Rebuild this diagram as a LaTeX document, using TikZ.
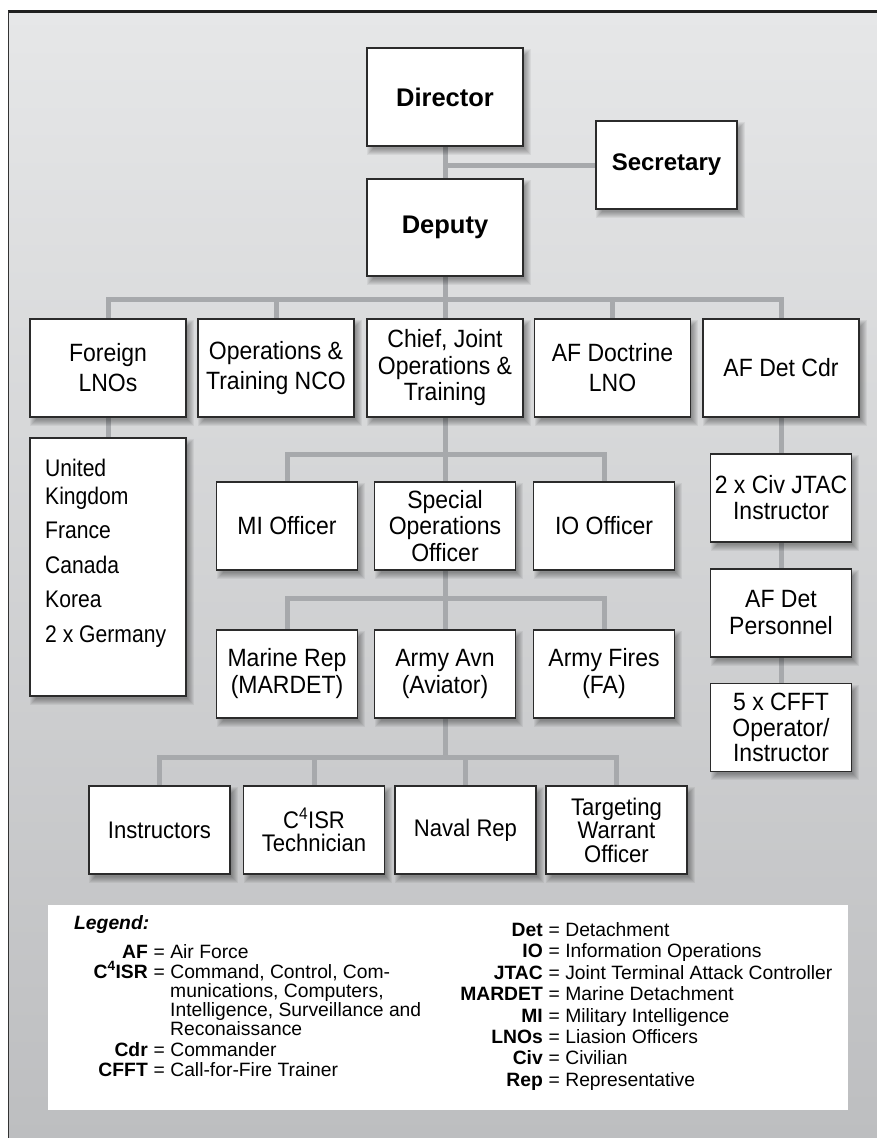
\documentclass[tikz,border=0pt]{standalone}
\usepackage{fontspec}
\setmainfont{Liberation Sans}
\newfontfamily\condfont[FakeStretch=0.92]{Liberation Sans}
\newfontfamily\listfont[FakeStretch=0.88]{Liberation Sans}
\usetikzlibrary{calc}
\pgfdeclarelayer{bg}
\pgfdeclarelayer{conn}
\pgfdeclarelayer{shadow}
\pgfsetlayers{bg,conn,shadow,main}
\definecolor{connc}{HTML}{A7A9AC}
\definecolor{boxline}{HTML}{2B2B2B}
\definecolor{bgtop}{HTML}{E6E7E8}
\definecolor{bgbot}{HTML}{BDBEC0}
\begin{document}
\begin{tikzpicture}[x=1pt,y=-1pt,
  box/.style={draw=boxline, line width=1.3pt, fill=white, inner sep=2pt, align=center},
  bigbox/.style={box, minimum width=156pt, minimum height=98pt},
  smallbox/.style={box, minimum width=141pt, minimum height=88pt},
  topfont/.style={font=\fontsize{25.5}{30}\selectfont\bfseries},
  cf/.style={font=\condfont\fontsize{25}{#1}\selectfont},
  cf/.default=27,
  rf/.style={font=\condfont\fontsize{24}{#1}\selectfont},
  rf/.default=23.5,
  conn/.style={draw=connc, line width=5pt},
  leg/.style={font=\fontsize{19.3}{22}\selectfont, inner sep=0pt}
]
\useasboundingbox (0,0) rectangle (877,1138);
\begin{pgfonlayer}{bg}
  \fill[white] (0,0) rectangle (877,1138);
  \shade[top color=bgtop, bottom color=bgbot] (8,11) rectangle (877,1138);
  \draw[line width=3pt, black!88] (8,11) -- (877,11);
  \draw[line width=1.5pt, black!80] (8.5,11) -- (8.5,1138);
  \fill[white] (48,905) rectangle (848,1110);
\end{pgfonlayer}

% top
\node[bigbox, topfont] (dir) at (445,97) {Director};
\node[smallbox, font=\fontsize{24}{30}\selectfont\bfseries] (sec) at (666.5,165) {Secretary};
\node[bigbox, topfont, minimum height=97pt] (dep) at (445,227.5) {Deputy};

% row 1
\node[bigbox, cf=30] (fln) at (108,368) {Foreign\\LNOs};
\node[bigbox, cf=30] (ops) at (276,368) {Operations \&\\Training NCO};
\node[bigbox, cf=26.5] (chief) at (445,368) {Chief, Joint\\Operations \&\\Training};
\node[bigbox, cf=30] (afdoc) at (612.5,368) {AF Doctrine\\LNO};
\node[bigbox, cf=30] (afdet) at (781,368) {AF Det Cdr};

% list
\node[box, minimum width=156pt, minimum height=258pt] (list) at (108,567) {};
\node[font=\listfont\fontsize{24}{28}\selectfont, anchor=west, inner sep=0pt, align=left] (listtxt) at (45,553)
  {United\\Kingdom\\[6.5pt]France\\[6.5pt]Canada\\[6.5pt]Korea\\[6.5pt]2 x Germany};

% row 2
\node[smallbox, cf] (mi) at (287,526) {MI Officer};
\node[smallbox, cf=26.5] (spec) at (445,526) {Special\\Operations\\Officer};
\node[smallbox, cf] (io) at (604,526) {IO Officer};

% row 3
\node[smallbox, cf] (mar) at (287,674) {Marine Rep\\(MARDET)};
\node[smallbox, cf] (avn) at (445,674) {Army Avn\\(Aviator)};
\node[smallbox, cf] (fires) at (604,674) {Army Fires\\(FA)};

% row 4
\node[smallbox, rf] (instr) at (159.5,830) {Instructors};
\node[smallbox, rf] (c4) at (314,830) {C\textsuperscript{4}ISR\\Technician};
\node[smallbox, rf] (naval) at (465.5,830) {Naval Rep};
\node[smallbox, rf] (targ) at (616.5,830) {Targeting\\Warrant\\Officer};

% right column
\node[smallbox, cf=26] (jtac) at (781,498) {2 x Civ JTAC\\Instructor};
\node[smallbox, cf] (pers) at (781,613) {AF Det\\Personnel};
\node[smallbox, cf=25.5] (cfft) at (781,727.5) {5 x CFFT\\Operator/\\Instructor};

% shadows
\begin{pgfonlayer}{shadow}
  \foreach \n in {dir,sec,dep,fln,ops,chief,afdoc,afdet,list,mi,spec,io,mar,avn,fires,instr,c4,naval,targ,jtac,pers,cfft} {
    \foreach \s in {-3,-2,...,3} {
      \fill[black, opacity=0.055] ($(\n.north west)+(4-\s,5-\s)$) rectangle ($(\n.south east)+(4+\s,5+\s)$);
    }
  }
\end{pgfonlayer}

% connectors
\begin{pgfonlayer}{conn}
  \draw[conn] (dir.south) -- (dep.north);
  \draw[conn] (sec.west) -- (sec.west -| dir.south);
  \draw[conn] (dep.south) -- (chief.north);
  \draw[conn] (fln.north) -- ++(0,-19) -| (afdet.north);
  \draw[conn] (ops.north) -- ++(0,-19);
  \draw[conn] (afdoc.north) -- ++(0,-19);
  \draw[conn] (fln.south) -- (list.north);
  \draw[conn] (chief.south) -- (spec.north);
  \draw[conn] (mi.north) -- ++(0,-27) -| (io.north);
  \draw[conn] (spec.south) -- (avn.north);
  \draw[conn] (mar.north) -- ++(0,-31) -| (fires.north);
  \draw[conn] (avn.south) -- ++(0,40);
  \draw[conn] (instr.north) -- ++(0,-28) -| (targ.north);
  \draw[conn] (c4.north) -- ++(0,-28);
  \draw[conn] (naval.north) -- ++(0,-28);
  \draw[conn] (afdet.south) -- (cfft.north);
\end{pgfonlayer}

% legend left
\node[leg, anchor=base west] (legt) at (74,929.5) {\textbf{\textit{Legend:}}};
\node[leg, anchor=base east] (la1) at (148,958) {\textbf{AF}};
\node[leg, anchor=base west] (ld1) at (153.5,958) {= Air Force};
\node[leg, anchor=base east] (la2) at (148,978) {\textbf{C\textsuperscript{4}ISR}};
\node[leg, anchor=base west] (ld2) at (153.5,978) {= Command, Control, Com-};
\node[leg, anchor=base west] (ld2b) at (170,997) {munications, Computers,};
\node[leg, anchor=base west] (ld2c) at (170,1016) {Intelligence, Surveillance and};
\node[leg, anchor=base west] (ld2d) at (170,1035) {Reconaissance};
\node[leg, anchor=base east] (la3) at (148,1056) {\textbf{Cdr}};
\node[leg, anchor=base west] (ld3) at (153.5,1056) {= Commander};
\node[leg, anchor=base east] (la4) at (148,1076) {\textbf{CFFT}};
\node[leg, anchor=base west] (ld4) at (153.5,1076) {= Call-for-Fire Trainer};

% legend right
\node[leg, anchor=base east] (ra1) at (543,936.5) {\textbf{Det}};
\node[leg, anchor=base west] (rd1) at (548.5,936.5) {= Detachment};
\node[leg, anchor=base east] (ra2) at (543,957.9) {\textbf{IO}};
\node[leg, anchor=base west] (rd2) at (548.5,957.9) {= Information Operations};
\node[leg, anchor=base east] (ra3) at (543,979.3) {\textbf{JTAC}};
\node[leg, anchor=base west] (rd3) at (548.5,979.3) {= Joint Terminal Attack Controller};
\node[leg, anchor=base east] (ra4) at (543,1000.7) {\textbf{MARDET}};
\node[leg, anchor=base west] (rd4) at (548.5,1000.7) {= Marine Detachment};
\node[leg, anchor=base east] (ra5) at (543,1022.1) {\textbf{MI}};
\node[leg, anchor=base west] (rd5) at (548.5,1022.1) {= Military Intelligence};
\node[leg, anchor=base east] (ra6) at (543,1043.5) {\textbf{LNOs}};
\node[leg, anchor=base west] (rd6) at (548.5,1043.5) {= Liasion Officers};
\node[leg, anchor=base east] (ra7) at (543,1064.9) {\textbf{Civ}};
\node[leg, anchor=base west] (rd7) at (548.5,1064.9) {= Civilian};
\node[leg, anchor=base east] (ra8) at (543,1086.3) {\textbf{Rep}};
\node[leg, anchor=base west] (rd8) at (548.5,1086.3) {= Representative};
\end{tikzpicture}
\end{document}
